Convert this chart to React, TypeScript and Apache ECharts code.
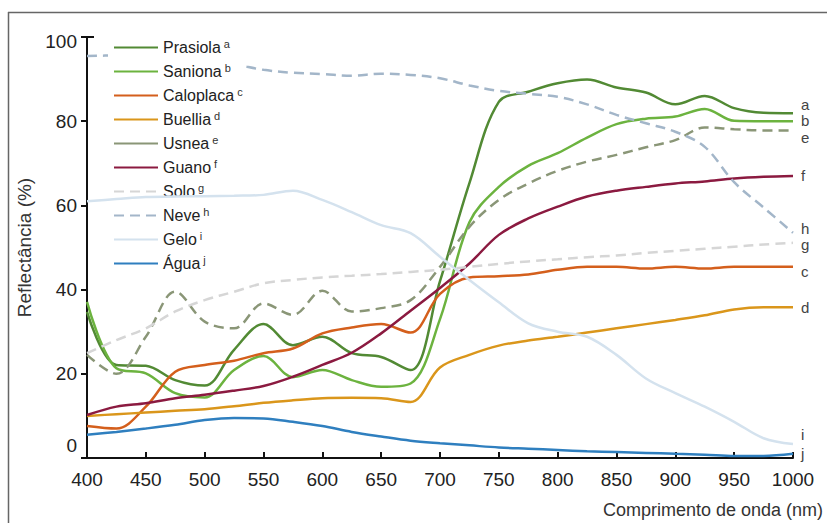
import React, { useEffect, useRef } from 'react';
import * as echarts from 'echarts';

const wavelengths = [400, 425, 450, 475, 500, 525, 550, 575, 600, 625, 650, 675, 700, 725, 750, 775, 800, 825, 850, 875, 900, 925, 950, 975, 1000];

const prasiola = [34.7, 22.1, 21.9, 18.5, 17.2, 25.7, 31.8, 26.8, 28.8, 24.9, 24.0, 20.9, 42.0, 65.3, 84.6, 87.0, 89.0, 89.9, 88.0, 86.8, 84.0, 86.0, 83.1, 82.0, 81.9];
const saniona = [37.1, 21.3, 20.1, 15.4, 14.4, 20.9, 24.2, 19.2, 20.9, 18.5, 16.9, 17.7, 33.0, 56.0, 64.4, 69.4, 72.4, 76.1, 79.3, 80.6, 81.1, 82.9, 80.1, 80.0, 80.0];
const caloplaca = [7.6, 7.0, 12.2, 20.5, 22.1, 23.1, 24.9, 26.0, 29.6, 31.0, 31.8, 29.8, 39.0, 42.9, 43.2, 43.6, 44.7, 45.4, 45.4, 45.0, 45.4, 45.0, 45.4, 45.4, 45.4];
const buellia = [10.0, 10.4, 10.8, 11.2, 11.6, 12.3, 13.1, 13.7, 14.2, 14.3, 14.2, 13.3, 21.5, 24.5, 26.7, 27.9, 28.8, 29.8, 30.8, 31.8, 32.8, 33.9, 35.3, 35.8, 35.8];
const usnea = [24.5, 20.0, 28.8, 39.5, 32.4, 30.8, 36.7, 34.0, 39.7, 34.8, 35.6, 37.5, 45.4, 54.9, 61.3, 65.2, 68.2, 70.4, 72.0, 73.8, 75.5, 78.5, 78.1, 77.8, 77.8];
const guano = [10.2, 12.2, 13.0, 14.2, 15.0, 16.0, 17.1, 19.3, 22.1, 25.0, 29.6, 35.0, 40.4, 46.2, 53.0, 56.9, 59.7, 62.1, 63.5, 64.4, 65.2, 65.7, 66.4, 66.8, 67.0];
const solo = [24.9, 28.0, 30.8, 34.8, 37.5, 39.5, 41.5, 42.3, 42.9, 43.3, 43.7, 44.2, 44.7, 45.4, 46.1, 46.7, 47.2, 47.7, 48.1, 48.7, 49.2, 49.7, 50.2, 50.7, 51.1];
const neve = [95.5, 95.6, 95.5, 95.0, 94.3, 93.5, 92.2, 91.5, 91.2, 90.8, 91.3, 91.0, 90.2, 88.5, 87.2, 86.5, 85.8, 84.0, 81.5, 79.5, 77.5, 73.9, 65.5, 59.5, 53.5];
const gelo = [61.0, 61.5, 62.0, 62.1, 62.2, 62.3, 62.5, 63.5, 61.3, 58.4, 55.3, 53.4, 47.8, 42.3, 37.0, 32.0, 30.0, 28.8, 24.5, 18.9, 15.4, 12.2, 8.6, 4.7, 3.3];
const agua = [5.5, 6.2, 7.0, 7.9, 9.0, 9.5, 9.4, 8.6, 7.6, 6.2, 5.1, 4.1, 3.5, 3.0, 2.5, 2.2, 1.9, 1.6, 1.4, 1.2, 1.0, 0.8, 0.5, 0.5, 1.0];

const seriesNames = ['Prasiola', 'Saniona', 'Caloplaca', 'Buellia', 'Usnea', 'Guano', 'Solo', 'Neve', 'Gelo', 'Água'];
const seriesLetters = ['a', 'b', 'c', 'd', 'e', 'f', 'g', 'h', 'i', 'j'];
const seriesValues = [prasiola, saniona, caloplaca, buellia, usnea, guano, solo, neve, gelo, agua];
const seriesColors = ['#528a34', '#6cb33f', '#d45f1c', '#da961b', '#8a9677', '#8b1a40', '#d6d6d6', '#a3b6c9', '#d4e2ee', '#2f7fbf'];
const seriesDashed = [false, false, false, false, true, false, true, true, false, false];
const endLabelOffsets = [[0, -9], [0, -1], [0, 5], [0, 0], [0, 7], [0, 0], [0, 2], [0, -4], [0, -10], [0, 0]];

const FONT = "'Liberation Sans', Arial, Helvetica, sans-serif";

export default function App() {
  const ref = useRef<HTMLDivElement>(null);

  useEffect(() => {
    const chart = echarts.init(ref.current as HTMLDivElement, undefined, { renderer: 'svg' });

    const series = seriesNames.map((name, k) => ({
      name,
      type: 'line',
      data: wavelengths.map((w, i) => [w, seriesValues[k][i]]),
      smooth: 0.35,
      symbol: 'none',
      showSymbol: false,
      z: name === 'Gelo' ? 5 : 2,
      lineStyle: {
        color: seriesColors[k],
        width: 2.5,
        type: seriesDashed[k] ? [10, 6] : 'solid',
      },
      itemStyle: { color: seriesColors[k] },
      emphasis: { disabled: true },
      endLabel: {
        show: true,
        formatter: seriesLetters[k],
        color: '#444',
        fontSize: 15,
        lineHeight: 10,
        fontFamily: FONT,
        distance: 8,
        offset: endLabelOffsets[k],
      },
    }));

    const supMap: Record<string, string> = {};
    seriesNames.forEach((n, i) => (supMap[n] = seriesLetters[i]));

    const baseGraphic: any[] = [
      { type: 'line', id: 'frameL', shape: { x1: 8.5, y1: 12, x2: 8.5, y2: 523 }, style: { stroke: '#666', lineWidth: 1.5 } },
      { type: 'line', id: 'frameT', shape: { x1: 8, y1: 12.5, x2: 827, y2: 12.5 }, style: { stroke: '#666', lineWidth: 1.5 } },
      {
        type: 'text',
        id: 'xname',
        x: 823,
        y: 510,
        style: { text: 'Comprimento de onda (nm)', fontSize: 18, fill: '#333', fontFamily: FONT, align: 'right', verticalAlign: 'middle' },
      },
    ];

    chart.setOption({
      animation: false,
      backgroundColor: '#fff',
      grid: { left: 87, right: 34, top: 37, bottom: 65, containLabel: false },
      xAxis: {
        type: 'value',
        min: 400,
        max: 1000,
        interval: 50,
        axisLine: { show: true, lineStyle: { color: '#111', width: 2 } },
        axisTick: { show: true, inside: true, length: 6, lineStyle: { color: '#111', width: 2 } },
        axisLabel: { fontSize: 19, color: '#222', margin: 12, fontFamily: FONT, formatter: (v: number) => String(v) },
        splitLine: { show: false },
      },
      yAxis: {
        type: 'value',
        min: 0,
        max: 100,
        interval: 20,
        name: 'Reflectância (%)',
        nameLocation: 'middle',
        nameGap: 37,
        nameRotate: 90,
        nameTextStyle: { fontSize: 19, color: '#333', fontFamily: FONT },
        axisLine: { show: true, lineStyle: { color: '#111', width: 2 } },
        axisTick: { show: true, inside: false, length: 6, lineStyle: { color: '#111', width: 2 } },
        axisLabel: {
          fontSize: 19,
          color: '#222',
          margin: 10,
          fontFamily: FONT,
          formatter: (v: number) => (v === 0 ? '{z|0}' : v === 100 ? '{h|100}' : String(v)),
          rich: {
            z: { fontSize: 19, color: '#222', fontFamily: FONT, padding: [0, 0, 26, 0] },
            h: { fontSize: 19, color: '#222', fontFamily: FONT, padding: [8, 0, 0, 0] },
          },
        },
        splitLine: { show: false },
      },
      legend: {
        orient: 'vertical',
        left: 108,
        top: 36,
        padding: [2, 0, 2, 5],
        backgroundColor: '#fff',
        itemWidth: 44,
        itemHeight: 14,
        itemGap: 5.5,
        selectedMode: false,
        itemStyle: { opacity: 0 },
        data: seriesNames.map((n) => (n === 'Usnea' ? { name: n, lineStyle: { type: 'solid' } } : { name: n })),
        formatter: (name: string) => `${name}{s|${supMap[name]}}`,
        textStyle: {
          fontSize: 16,
          color: '#222',
          fontFamily: FONT,
          lineHeight: 18,
          rich: { s: { fontSize: 11, color: '#333', fontFamily: FONT, padding: [0, 0, 8, 3] } },
        },
      },
      graphic: baseGraphic,
      series,
    });

    const p = chart.convertToPixel({ gridIndex: 0 }, [400, 100]) as number[];
    if (p && p.length === 2) {
      chart.setOption({
        graphic: [
          ...baseGraphic,
          { type: 'line', id: 'topTick', shape: { x1: p[0], y1: p[1], x2: p[0] + 7, y2: p[1] }, style: { stroke: '#111', lineWidth: 2 } },
        ],
      });
    }

    return () => chart.dispose();
  }, []);

  return <div ref={ref} style={{ position: 'fixed', left: 0, top: 0, width: 827, height: 523 }} />;
}
